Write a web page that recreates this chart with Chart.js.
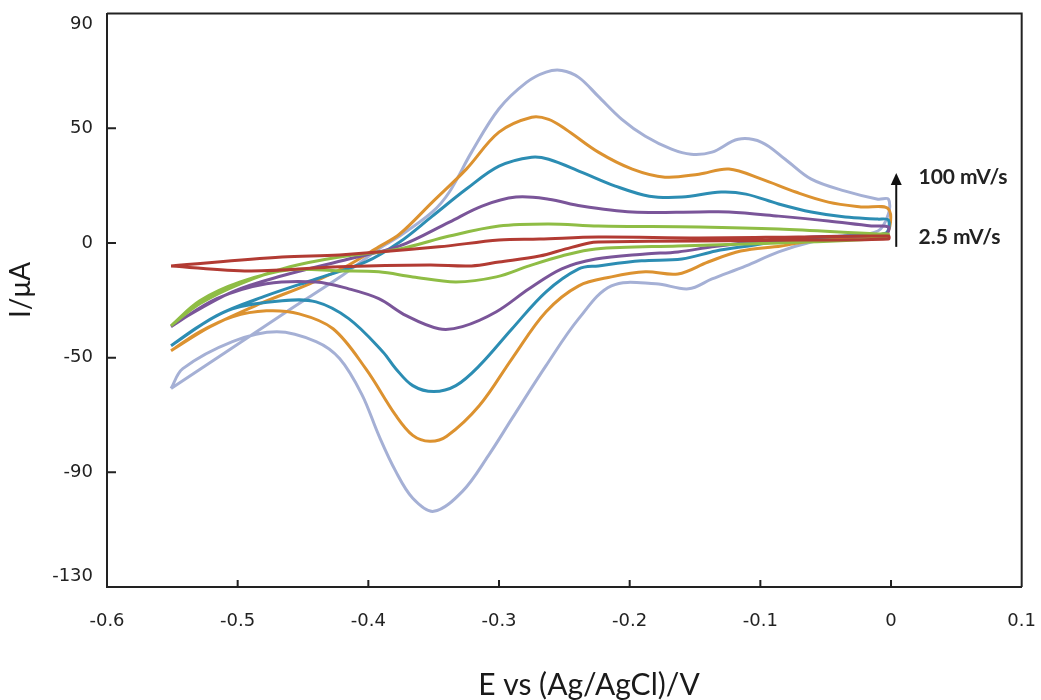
<!DOCTYPE html>
<html>
<head>
<meta charset="utf-8">
<script src="https://cdn.jsdelivr.net/npm/chart.js@4.4.0/dist/chart.umd.min.js"></script>
<style>
  html, body { margin: 0; padding: 0; background: #fff; }
  #wrap { width: 1041px; height: 700px; overflow: hidden; }
  /* canvas is a little larger than the page so the plot frame lands where the figure has it */
  #cv { display: block; margin-top: -22px; }
</style>
</head>
<body>
<div id="wrap"><canvas id="cv" width="1060" height="722"></canvas></div>
<script>
// tick labels as printed on the figure
const xTickLabels = ['-0.6', '-0.5', '-0.4', '-0.3', '-0.2', '-0.1', '0', '0.1'];
const yTickLabels = ['-130', '-90', '-50', '0', '50', '90'];
const xTitle = 'E vs (Ag/AgCl)/V';
const yTitle = 'I/μA';

// scan rates (only the slowest and fastest are named on the figure)
const seriesNames = ['2.5 mV/s', 'scan 2', 'scan 3', 'scan 4', 'scan 5', '100 mV/s'];
const seriesColors = ['#b23b33', '#8fbd45', '#7a5599', '#2c8db3', '#dc9230', '#a5b0d5'];

// each loop: forward (anodic) sweep then reverse sweep, E in V, I in uA
const redE = [-0.551, -0.466, -0.422, -0.346, -0.300, -0.269, -0.224, -0.147, -0.071, -0.002,
              -0.002, -0.071, -0.147, -0.224, -0.231, -0.249, -0.269, -0.300, -0.321, -0.353, -0.422, -0.491, -0.551];
const redI = [-10, -6.1, -5.2, -1.7, 1.3, 1.7, 2.6, 2.2, 2.6, 3,
              1.7, 1.3, 0.9, 0.4, 0, -2.6, -5.7, -8.3, -10, -9.6, -10.4, -12.2, -10];

const greenE = [-0.551, -0.529, -0.498, -0.460, -0.422, -0.376, -0.338, -0.300, -0.262, -0.224, -0.147, -0.086, -0.010, -0.002,
                -0.004, -0.086, -0.163, -0.226, -0.252, -0.277, -0.302, -0.333, -0.366, -0.392, -0.422, -0.460, -0.498, -0.529, -0.551];
const greenI = [-36.1, -26.5, -17.8, -10.4, -6.1, -2.6, 3, 7.4, 8.3, 7.4, 7, 6.1, 3.9, 3.9,
                2.2, 0, -1.3, -2.6, -5.7, -10, -14.8, -17, -14.8, -12.6, -12.2, -11.7, -17, -25.2, -36.1];

const purpleE = [-0.551, -0.542, -0.504, -0.466, -0.415, -0.376, -0.338, -0.313, -0.287, -0.262, -0.237, -0.198, -0.147, -0.124, -0.086, -0.048, -0.015, -0.002,
                 -0.004, -0.061, -0.099, -0.137, -0.163, -0.188, -0.226, -0.252, -0.277, -0.302, -0.328, -0.346, -0.371, -0.392, -0.415, -0.440, -0.478, -0.516, -0.551];
const purpleI = [-36.5, -33, -21.3, -14.3, -7, -1.3, 9.1, 16.1, 20, 19.1, 16.1, 13.5, 13.5, 13.5, 11.7, 9.6, 7.4, 7,
                 3.9, 2.6, 0.9, -1.7, -3.9, -4.8, -7, -11.3, -20, -30, -36.5, -37.4, -31.7, -24.3, -20, -17, -17.8, -24.3, -36.5];

const tealE = [-0.551, -0.516, -0.478, -0.440, -0.402, -0.376, -0.351, -0.325, -0.300, -0.275, -0.262, -0.237, -0.211, -0.185, -0.160, -0.130, -0.111, -0.086, -0.061, -0.035, -0.010, -0.002,
               -0.004, -0.035, -0.073, -0.109, -0.134, -0.160, -0.191, -0.224, -0.239, -0.264, -0.290, -0.315, -0.333, -0.350, -0.366, -0.379, -0.389, -0.415, -0.440, -0.466, -0.504, -0.529, -0.551];
const tealI = [-44.8, -31.7, -23, -15.7, -8.3, 0.4, 11.7, 23.5, 33.5, 37.4, 36.5, 30.9, 24.8, 20.4, 20, 22.2, 21.3, 17, 13.5, 11.3, 10.4, 10,
               4.3, 3, 1.7, -1.3, -3.5, -7, -7.8, -10, -11.3, -21.3, -37.4, -53.5, -62.2, -64.8, -62.2, -54.8, -47.4, -33, -25.7, -25.2, -28.7, -36.1, -44.8];

const orangeE = [-0.551, -0.521, -0.483, -0.445, -0.415, -0.392, -0.376, -0.351, -0.325, -0.300, -0.275, -0.262, -0.249, -0.224, -0.198, -0.173, -0.147, -0.124, -0.099, -0.073, -0.048, -0.023, -0.002,
                 -0.004, -0.023, -0.061, -0.084, -0.115, -0.140, -0.163, -0.188, -0.214, -0.239, -0.264, -0.290, -0.315, -0.340, -0.353, -0.366, -0.379, -0.402, -0.427, -0.453, -0.478, -0.504, -0.529, -0.551];
const orangeI = [-47, -36.5, -26.5, -17.8, -9.6, -1.7, 3.9, 17.8, 32.2, 48.3, 54.8, 53.9, 49.6, 39.6, 32.2, 28.7, 30, 32.2, 27.8, 22.2, 17.8, 15.7, 14.8,
                 3.5, 2.6, 0.9, -1.3, -3.5, -8.3, -13.5, -12.6, -14.8, -18.7, -30, -50.4, -70.9, -84.3, -86.5, -83.9, -75.2, -54.8, -37.4, -30.9, -29.6, -32.2, -38.7, -47];

const lavenderE = [-0.551, -0.506, -0.460, -0.422, -0.392, -0.376, -0.351, -0.338, -0.321, -0.300, -0.279, -0.264, -0.252, -0.239, -0.224, -0.206, -0.188, -0.168, -0.153, -0.137, -0.117, -0.099, -0.081, -0.061, -0.035, -0.010, -0.002,
                   -0.002, -0.010, -0.035, -0.061, -0.086, -0.111, -0.137, -0.155, -0.180, -0.214, -0.239, -0.264, -0.290, -0.308, -0.328, -0.350, -0.366, -0.379, -0.392, -0.405, -0.422, -0.440, -0.470, -0.504, -0.542, -0.551];
const lavenderI = [-63.5, -46.5, -29, -15, -2.6, 3, 13.5, 22.2, 39.6, 58.5, 70, 74.5, 75.2, 72.2, 63.9, 53.9, 46.5, 40.9, 38.7, 39.6, 45.2, 43.9, 36.5, 27.8, 22.6, 19.1, 19.1,
                   12.6, 5.2, 3, 0.4, -3.9, -10, -15.7, -20, -17.8, -18.7, -33, -53.5, -76.5, -92.6, -108.3, -117, -111.3, -99.6, -83.9, -66, -50.4, -43, -38.7, -43, -54.8, -63.5];

// annotation (arrow + scan-rate labels)
const arrowE = 0.004, arrowFrom = -1.7, arrowTo = 30.5;
const noteE = 0.021;
const noteLabels = ['100 mV/s', '2.5 mV/s'];
const noteI = [28.5, 2.6];

const seriesE = [redE, greenE, purpleE, tealE, orangeE, lavenderE];
const seriesI = [redI, greenI, purpleI, tealI, orangeI, lavenderI];

const datasets = seriesNames.map((name, k) => ({
    label: name,
    data: seriesE[k].map((e, i) => ({ x: e, y: seriesI[k][i] })),
    showLine: true,
    borderColor: seriesColors[k],
    backgroundColor: seriesColors[k],
    borderWidth: 3,
    pointRadius: 0,
    tension: 0.35,
    fill: false
}));

// the figure prints its end labels a little inside the axis ends
function yLabel(v, i, ticks) {
    const s = yTickLabels[i];
    if (i === 0) return [s, ''];
    if (i === ticks.length - 1) return ['', s];
    return s;
}

const marks = {
    id: 'marks',
    afterDraw(chart) {
        const ctx = chart.ctx, a = chart.chartArea;
        const xs = chart.scales.x, ys = chart.scales.y;
        ctx.save();
        ctx.strokeStyle = '#222';
        ctx.lineWidth = 2;
        ctx.beginPath();
        ctx.moveTo(a.left, a.top);
        ctx.lineTo(a.right, a.top);
        ctx.lineTo(a.right, a.bottom);
        // tick marks point inward
        ys.ticks.forEach(t => {
            if (t.value > ys.min && t.value < ys.max) {
                const y = ys.getPixelForValue(t.value);
                ctx.moveTo(a.left, y);
                ctx.lineTo(a.left + 9, y);
            }
        });
        xs.ticks.forEach(t => {
            if (t.value > xs.min + 1e-9 && t.value < xs.max - 1e-9) {
                const x = xs.getPixelForValue(t.value);
                ctx.moveTo(x, a.bottom);
                ctx.lineTo(x, a.bottom - 7);
            }
        });
        ctx.stroke();

        // arrow
        const ax = xs.getPixelForValue(arrowE);
        const y0 = ys.getPixelForValue(arrowFrom), y1 = ys.getPixelForValue(arrowTo);
        ctx.strokeStyle = '#111';
        ctx.lineWidth = 2;
        ctx.beginPath();
        ctx.moveTo(ax, y0);
        ctx.lineTo(ax, y1 + 10);
        ctx.stroke();
        ctx.fillStyle = '#111';
        ctx.beginPath();
        ctx.moveTo(ax, y1);
        ctx.lineTo(ax - 5.5, y1 + 12);
        ctx.lineTo(ax + 5.5, y1 + 12);
        ctx.closePath();
        ctx.fill();

        ctx.font = 'bold 21px Lato';
        ctx.textBaseline = 'middle';
        ctx.textAlign = 'left';
        ctx.fillStyle = '#222';
        noteLabels.forEach((s, i) => {
            ctx.fillText(s, xs.getPixelForValue(noteE), ys.getPixelForValue(noteI[i]));
        });

        // axis titles (canvas sits 22px above the page top)
        ctx.fillStyle = '#1a1a1a';
        ctx.textAlign = 'center';
        ctx.font = '30px Lato';
        ctx.fillText(xTitle, 589, 707);
        ctx.font = '28px Lato';
        ctx.translate(21, 312);
        ctx.rotate(-Math.PI / 2);
        ctx.fillText(yTitle, 0, 0);
        ctx.restore();
    }
};

new Chart(document.getElementById('cv'), {
    type: 'scatter',
    data: { datasets: datasets },
    options: {
        responsive: false,
        animation: false,
        layout: { padding: { top: 3, right: 0, left: 0, bottom: 0 } },
        plugins: {
            legend: { display: false },
            tooltip: { enabled: false }
        },
        scales: {
            x: {
                type: 'linear',
                min: -0.6,
                max: 0.1,
                afterFit: s => { s.height = 113; },
                border: { display: true, color: '#222', width: 2 },
                grid: { drawOnChartArea: false, drawTicks: false },
                ticks: {
                    stepSize: 0.1,
                    padding: 24,
                    color: '#222',
                    font: { family: 'DejaVu Sans', size: 18 },
                    callback: (v, i) => xTickLabels[i]
                }
            },
            y: {
                type: 'linear',
                min: -150,
                max: 100,
                afterFit: s => { s.width = 107; },
                border: { display: true, color: '#222', width: 2 },
                grid: { drawOnChartArea: false, drawTicks: false },
                ticks: {
                    stepSize: 50,
                    padding: 14,
                    color: '#222',
                    font: { family: 'DejaVu Sans', size: 18 },
                    callback: yLabel
                }
            }
        }
    },
    plugins: [marks]
});
</script>
</body>
</html>
